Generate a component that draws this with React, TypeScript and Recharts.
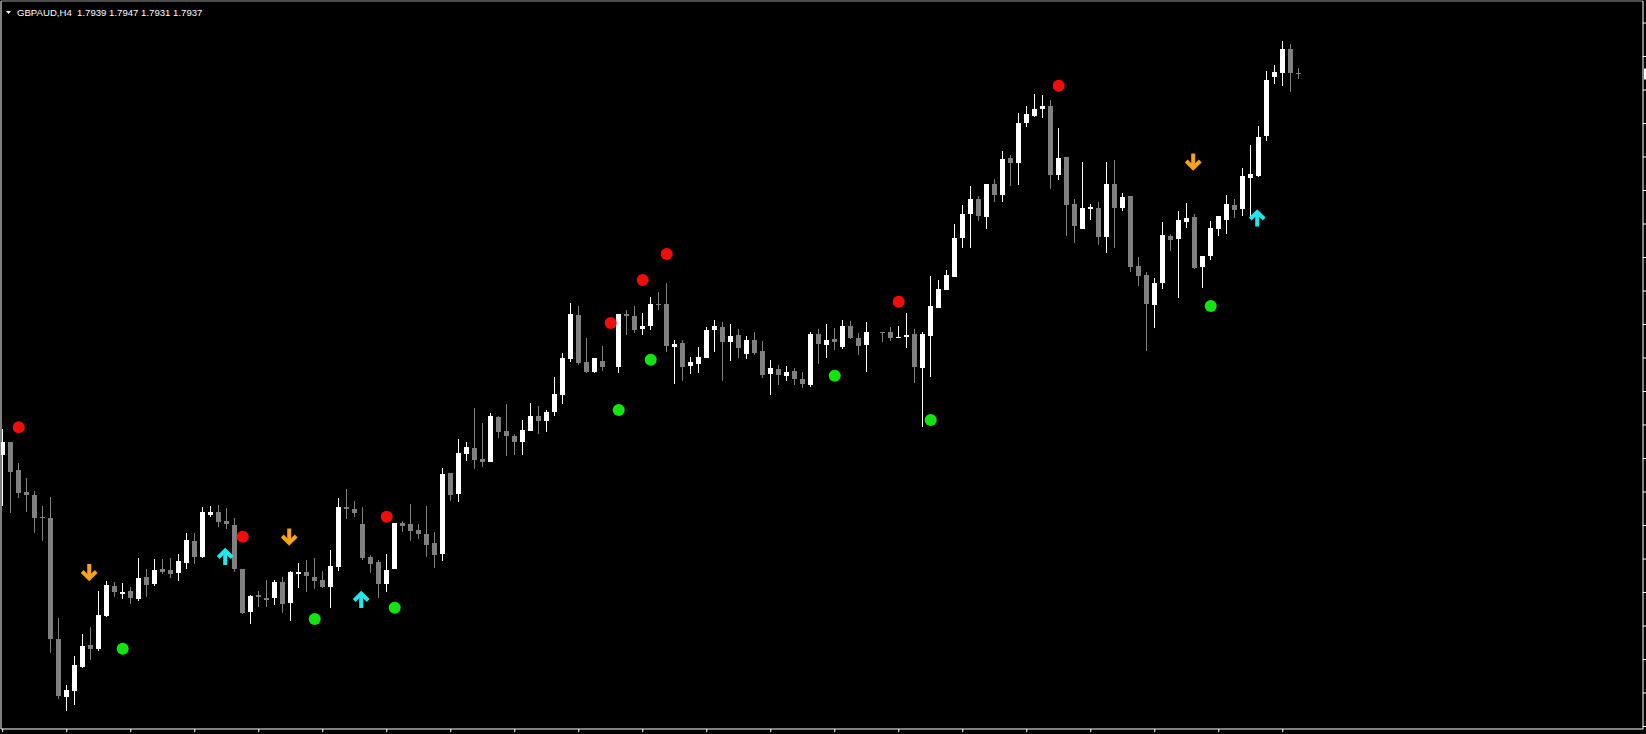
import {
  ComposedChart,
  Bar,
  Scatter,
  XAxis,
  YAxis,
  ReferenceLine,
} from 'recharts';

// GBPAUD H4, one entry per bar (null = no bar drawn)
const opens = [
  1.7556, 1.75693, 1.7541, 1.75193, 1.7516, 1.74943, 1.74933, 1.73717, 1.73143, 1.73203,
  1.73443, 1.7366, 1.73617, 1.7395, 1.7425, 1.74167, 1.742, 1.7412, 1.74337, 1.7427,
  1.7442, 1.7441, 1.74383, 1.74483, 1.74703, 1.74537, 1.7496, 1.7499, 1.749, 1.7486,
  1.7442, 1.73993, 1.7416, 1.74127, 1.74127, 1.74293, 1.74077, 1.7437, 1.74387, 1.74337,
  1.7431, 1.74243, 1.74443, 1.75037, 1.7502, 1.7487, 1.74543, 1.74493, 1.7427, 1.74417,
  1.74877, 1.7487, 1.7481, 1.7477, 1.74683, 1.7457, 1.75377, 1.7517, 1.7557, 1.75627,
  1.7552, 1.7549, 1.75943, 1.758, 1.7575, 1.7569, 1.75803, 1.7595, 1.75903, 1.75993,
  1.7616, 1.76517, 1.7696, 1.76487, 1.7639, 1.765, null, 1.76443, 1.7697, 1.7695,
  1.76823, 1.7685, 1.7707, 1.7707, 1.76643, 1.76683, 1.76453, 1.7647, 1.76533, 1.76813,
  1.76837, 1.76693, 1.76757, 1.7657, 1.7671, 1.766, 1.7637, 1.76417, 1.7635, 1.764,
  1.7632, 1.7626, 1.76767, 1.76663, 1.76717, 1.76643, 1.76847, 1.76727, 1.7666, null,
  1.76793, 1.76787, 1.76727, 1.76743, 1.7677, 1.76433, 1.7675, 1.77033, 1.7721, 1.77343,
  1.7773, 1.7797, 1.7812, 1.77943, 1.7827, 1.7816, 1.7853, 1.78483, 1.78877, 1.78953,
  1.79023, 1.7905, 1.7836, 1.7854, 1.7807, 1.7782, 1.78023, 1.7803, 1.77743, 1.7827,
  1.78033, 1.78153, 1.7745, 1.7736, 1.7706, 1.77277, 1.7775, 1.7772, 1.77893, 1.77943,
  1.77443, 1.7755, 1.7782, 1.7791, 1.7806, 1.7802, 1.78333, 1.78353, 1.7875, 1.79343,
  1.79383, 1.7962, 1.7938,
];

const highs = [
  1.7582, 1.75693, 1.75477, 1.75327, 1.75203, 1.7505, 1.75137, 1.73927, 1.7326, 1.7355,
  1.7377, 1.73837, 1.74203, 1.743, 1.74293, 1.7428, 1.74237, 1.7453, 1.74417, 1.74517,
  1.7452, 1.74533, 1.74567, 1.74777, 1.74777, 1.75043, 1.7505, 1.7506, 1.75027, 1.7493,
  1.7442, 1.74157, 1.74203, 1.7431, 1.7431, 1.74337, 1.74403, 1.74477, 1.7451, 1.74527,
  1.744, 1.7461, 1.75127, 1.75217, 1.751, 1.75037, 1.7456, 1.7451, 1.7457, 1.74883,
  1.74903, 1.7507, 1.7487, 1.7505, 1.74793, 1.75427, 1.75383, 1.75717, 1.75693, 1.76027,
  1.75877, 1.75977, 1.75953, 1.76067, 1.7577, 1.7591, 1.76077, 1.7605, 1.7601, 1.76343,
  1.76583, 1.77077, 1.7705, 1.76733, 1.7653, 1.7665, null, 1.7697, 1.7701, 1.7705,
  1.76977, 1.77143, 1.77193, 1.77277, 1.7671, 1.7671, 1.76543, 1.76637, 1.76843, 1.7691,
  1.7689, 1.7687, 1.76817, 1.7675, 1.76793, 1.76703, 1.7651, 1.7646, 1.7645, 1.76427,
  1.76387, 1.76787, 1.7682, 1.7687, 1.76827, 1.7691, 1.769, 1.76777, 1.7689, null,
  1.76793, 1.76843, 1.7685, 1.76977, 1.76817, 1.76793, 1.7735, 1.7731, 1.7741, 1.7787,
  1.7806, 1.7825, 1.7815, 1.7827, 1.78317, 1.78603, 1.7856, 1.78983, 1.7905, 1.7917,
  1.7916, 1.7911, 1.78827, 1.7854, 1.7812, 1.7849, 1.7807, 1.78093, 1.78487, 1.7851,
  1.78177, 1.78153, 1.77537, 1.77387, 1.77327, 1.77887, 1.7777, 1.78, 1.78077, 1.77967,
  1.7755, 1.779, 1.7795, 1.7816, 1.7812, 1.78427, 1.7866, 1.78847, 1.79397, 1.79463,
  1.797, 1.7967, 1.79427,
];

const lows = [
  1.7505, 1.74977, 1.75127, 1.74993, 1.74783, 1.74703, 1.73577, 1.73117, 1.73003, 1.73057,
  1.73433, 1.7351, 1.73603, 1.73943, 1.74137, 1.7412, 1.74073, 1.74103, 1.74143, 1.74253,
  1.7437, 1.74333, 1.74303, 1.74417, 1.7447, 1.74527, 1.74937, 1.74843, 1.74817, 1.74387,
  1.73967, 1.7387, 1.74037, 1.74037, 1.7406, 1.73977, 1.73903, 1.74227, 1.74187, 1.74217,
  1.74227, 1.74027, 1.74403, 1.74917, 1.74937, 1.7451, 1.74383, 1.74127, 1.74193, 1.74417,
  1.74793, 1.74703, 1.74717, 1.74537, 1.74427, 1.74503, 1.75103, 1.75093, 1.75503, 1.7542,
  1.75437, 1.7549, 1.75727, 1.75553, 1.7556, 1.7556, 1.75803, 1.7577, 1.7579, 1.75953,
  1.7607, 1.76493, 1.7646, 1.76383, 1.76383, 1.76403, null, 1.76383, 1.7676, 1.76777,
  1.7676, 1.7681, 1.7701, 1.76593, 1.7627, 1.76303, 1.7637, 1.76377, 1.76533, 1.76593,
  1.76303, 1.76503, 1.76533, 1.7652, 1.7656, 1.7633, 1.76163, 1.7626, 1.763, 1.76263,
  1.76233, 1.76243, 1.7647, 1.76533, 1.7661, 1.76617, 1.7672, 1.7656, 1.76393, null,
  1.76693, 1.76703, 1.76727, 1.76627, 1.76277, 1.75843, 1.76337, 1.77027, 1.7721, 1.77343,
  1.77633, 1.77633, 1.779, 1.77817, 1.78093, 1.78093, 1.78253, 1.78263, 1.78843, 1.78943,
  1.78933, 1.7822, 1.7831, 1.77753, 1.77683, 1.7782, 1.7791, 1.7766, 1.77577, 1.77633,
  1.78003, 1.77393, 1.77253, 1.76603, 1.76833, 1.77217, 1.77603, 1.77127, 1.77833, 1.77417,
  1.77233, 1.7751, 1.77753, 1.7777, 1.77933, 1.77953, 1.77953, 1.78343, 1.78703, 1.7927,
  1.79253, 1.79193, 1.7932,
];

const closes = [
  1.7569, 1.75393, 1.75177, 1.7516, 1.74927, 1.74927, 1.73717, 1.73153, 1.7321, 1.7346,
  1.7365, 1.73617, 1.7396, 1.7426, 1.74193, 1.7419, 1.74133, 1.74327, 1.7426, 1.7441,
  1.7439, 1.7437, 1.745, 1.7471, 1.74543, 1.7499, 1.7499, 1.74887, 1.74867, 1.74417,
  1.73983, 1.7415, 1.74143, 1.74113, 1.7429, 1.74067, 1.7439, 1.7439, 1.74353, 1.74303,
  1.74243, 1.7445, 1.7504, 1.75023, 1.74977, 1.74527, 1.7447, 1.7427, 1.7441, 1.74877,
  1.7485, 1.74803, 1.7477, 1.7466, 1.7456, 1.7537, 1.7516, 1.75583, 1.75637, 1.7551,
  1.7549, 1.7595, 1.75787, 1.75753, 1.7569, 1.7581, 1.7595, 1.75903, 1.75987, 1.76167,
  1.76527, 1.7697, 1.76477, 1.76393, 1.7653, 1.76443, null, 1.7697, 1.7695, 1.7681,
  1.7685, 1.7707, 1.77057, 1.7665, 1.7667, 1.76443, 1.7649, 1.7654, 1.7681, 1.7685,
  1.76693, 1.7675, 1.76633, 1.7671, 1.76577, 1.7636, 1.76433, 1.76363, 1.7639, 1.76323,
  1.7627, 1.76767, 1.76673, 1.7671, 1.76693, 1.76847, 1.76733, 1.7665, 1.76787, null,
  1.76777, 1.76733, 1.7674, 1.7676, 1.76443, 1.7677, 1.7705, 1.7722, 1.7736, 1.77727,
  1.7797, 1.7812, 1.77953, 1.7827, 1.7816, 1.7852, 1.78483, 1.78883, 1.7897, 1.79017,
  1.7905, 1.7836, 1.7853, 1.78063, 1.77853, 1.7803, 1.78037, 1.77743, 1.7827, 1.78033,
  1.78143, 1.77443, 1.77353, 1.7707, 1.77277, 1.7776, 1.7771, 1.7791, 1.7793, 1.77427,
  1.7755, 1.7783, 1.7795, 1.7807, 1.7801, 1.7835, 1.7837, 1.7874, 1.7931, 1.79387,
  1.7962, 1.79383, 1.7937,
];

// indicator marks: bar index + price
const redDotBars = [2, 30, 48, 76, 80, 83, 112, 132];
const redDotPrices = [1.75837, 1.74743, 1.74943, 1.7688, 1.7731, 1.7757, 1.77093, 1.79253];
const greenDotBars = [15, 39, 49, 77, 81, 104, 116, 151];
const greenDotPrices = [1.73623, 1.7392, 1.74033, 1.7601, 1.76513, 1.76353, 1.7591, 1.7705];
const downArrowBars = [11, 36, 149];
const downArrowPrices = [1.7438, 1.74735, 1.78485];
const upArrowBars = [28, 45, 157];
const upArrowPrices = [1.7455, 1.7412, 1.77935];

const timeTicks = [0, 8, 16, 24, 32, 40, 48, 56, 64, 72, 80, 88, 96, 104, 112, 120, 128, 136, 144, 152, 160];
const priceTicks = [
  1.7988, 1.79545, 1.7921, 1.78875, 1.7854, 1.78205, 1.7787, 1.77535, 1.772, 1.76865, 1.7653,
  1.76195, 1.7586, 1.75525, 1.7519, 1.74855, 1.7452, 1.74185, 1.7385, 1.73515, 1.7318, 1.72845,
];

const TITLE = 'GBPAUD,H4  1.7939 1.7947 1.7931 1.7937';
const X_DOMAIN: [number, number] = [-0.2125, 205.0375];
const Y_DOMAIN: [number, number] = [1.7282, 1.801];

const BULL = '#ffffff';
const BEAR = '#808080';
const RED = '#f20d0d';
const GREEN = '#0ee60e';
const ORANGE = '#f7a21b';
const CYAN = '#22e6ea';

const candles = opens.map((o, i) => ({ i, o, h: highs[i], l: lows[i], c: closes[i] }));
const toPoints = (bars: number[], prices: number[]) => bars.map((i, k) => ({ i, p: prices[k] }));

const Candle = (props: any) => {
  const { x, y, width, height, payload } = props;
  if (!payload || payload.o == null) return null;
  const { o, h, l, c } = payload;
  const top = Math.min(y, y + height);
  const span = Math.abs(height);
  const perUnit = h - l > 0 ? span / (h - l) : 0;
  const yOf = (v: number) => top + (h - v) * perUnit;
  const cx = Math.round(x + width / 2) + 0.5;
  const color = c > o ? BULL : BEAR;
  const bTop = yOf(Math.max(o, c));
  const bBot = yOf(Math.min(o, c));
  return (
    <g shapeRendering="crispEdges">
      <line x1={cx} x2={cx} y1={top} y2={top + span} stroke={color} strokeWidth={1} />
      <rect x={cx - 2.5} y={bTop} width={5} height={Math.max(1, bBot - bTop)} fill={color} />
    </g>
  );
};

const dot = (fill: string) => (props: any) => (
  <circle cx={props.cx} cy={props.cy} r={6} fill={fill} />
);

// thick wingdings-like arrows
const DownArrow = (props: any) => {
  const x = props.cx - 1.5;
  const y = props.cy;
  return (
    <g fill="none" stroke={ORANGE}>
      <line x1={x} x2={x} y1={y - 9} y2={y + 6} strokeWidth={4} />
      <polyline points={`${x - 7},${y - 1.5} ${x},${y + 5.5} ${x + 7},${y - 1.5}`} strokeWidth={4} />
    </g>
  );
};

const UpArrow = (props: any) => {
  const x = props.cx - 1.5;
  const y = props.cy;
  return (
    <g fill="none" stroke={CYAN}>
      <line x1={x} x2={x} y1={y + 9} y2={y - 6} strokeWidth={4} />
      <polyline points={`${x - 7},${y + 1.5} ${x},${y - 5.5} ${x + 7},${y + 1.5}`} strokeWidth={4} />
    </g>
  );
};

const PriceTag = (props: any) => {
  const vb = props.viewBox;
  if (!vb) return null;
  return <rect x={vb.x + vb.width + 1} y={vb.y - 5.5} width={3} height={11} fill="#ffffff" />;
};

export default function App() {
  const lastClose = closes[closes.length - 1];
  return (
    <div style={{ position: 'fixed', left: 0, top: 0, width: 1646, height: 734, background: '#000' }}>
      <ComposedChart
        width={1646}
        height={734}
        data={candles}
        margin={{ top: 1, right: 0, bottom: 0, left: 1 }}
      >
        <XAxis
          dataKey="i"
          type="number"
          domain={X_DOMAIN}
          allowDataOverflow
          ticks={timeTicks}
          tickFormatter={() => ''}
          tickSize={3}
          height={5}
          axisLine={{ stroke: '#ffffff' }}
          tickLine={{ stroke: '#ffffff' }}
        />
        <YAxis
          type="number"
          orientation="right"
          domain={Y_DOMAIN}
          allowDataOverflow
          ticks={priceTicks}
          tickFormatter={() => ''}
          tickSize={3}
          width={3}
          axisLine={{ stroke: '#ffffff' }}
          tickLine={{ stroke: '#ffffff' }}
        />
        <ReferenceLine x={X_DOMAIN[0]} stroke="#ffffff" />
        <ReferenceLine y={Y_DOMAIN[1]} stroke="#9a9a9a" />
        <ReferenceLine y={lastClose} stroke="none" ifOverflow="visible" label={<PriceTag />} />
        <Bar
          dataKey={(d: any) => (d.o == null ? null : [d.l, d.h])}
          barSize={5}
          shape={<Candle />}
          isAnimationActive={false}
        />
        <Scatter data={toPoints(redDotBars, redDotPrices)} dataKey="p" shape={dot(RED)} isAnimationActive={false} />
        <Scatter data={toPoints(greenDotBars, greenDotPrices)} dataKey="p" shape={dot(GREEN)} isAnimationActive={false} />
        <Scatter data={toPoints(downArrowBars, downArrowPrices)} dataKey="p" shape={<DownArrow />} isAnimationActive={false} />
        <Scatter data={toPoints(upArrowBars, upArrowPrices)} dataKey="p" shape={<UpArrow />} isAnimationActive={false} />
      </ComposedChart>
      <svg
        width={260}
        height={24}
        style={{ position: 'absolute', left: 0, top: 0, pointerEvents: 'none' }}
      >
        <polygon points="6,11 11,11 8.5,14" fill="#ffffff" />
        <text
          x={17}
          y={16}
          fill="#ffffff"
          fontFamily="'Liberation Sans', Arial, sans-serif"
          fontSize={9.6}
          style={{ whiteSpace: 'pre' }}
        >
          {TITLE}
        </text>
      </svg>
    </div>
  );
}
